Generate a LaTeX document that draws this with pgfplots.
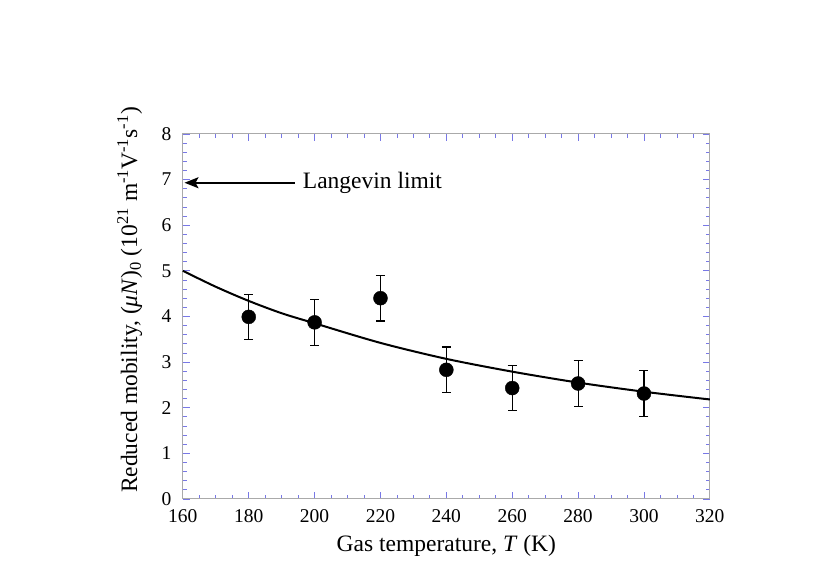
\documentclass[border=0pt]{standalone}
\usepackage{fontspec}
\setmainfont{Liberation Serif}
\usepackage{pgfplots}
\pgfplotsset{compat=1.18}
\usetikzlibrary{arrows.meta}
\definecolor{tickblue}{RGB}{120,120,230}
\definecolor{framegray}{RGB}{170,170,170}
\begin{document}
\begin{tikzpicture}
\begin{axis}[
  scale only axis,
  width=527pt, height=365pt,
  xmin=160, xmax=320, ymin=0, ymax=8,
  xtick={160,180,...,320}, ytick={0,1,...,8},
  minor x tick num=3, minor y tick num=4,
  axis line style={framegray, line width=1pt},
  every tick/.style={tickblue, line width=0.8pt},
  major tick length=7pt, minor tick length=4pt,
  tick align=inside,
  /pgf/number format/assume math mode=true,
  tick label style={font=\fontsize{19.5}{22}\selectfont},
  xticklabel style={yshift=-7pt},
  yticklabel style={xshift=-8pt},
  label style={font=\fontsize{23.5}{26}\selectfont},
  xlabel={Gas temperature, \textit{T} (K)},
  ylabel={Reduced mobility, (\textit{μN})\textsubscript{0} (10\textsuperscript{21} m\textsuperscript{-1}V\textsuperscript{-1}s\textsuperscript{-1})},
  xlabel style={at={(axis description cs:0.5,-0.129)}, anchor=center},
  ylabel style={at={(axis description cs:-0.101,0.545)}, anchor=center},
  clip=false,
]
\path (rel axis cs:-0.347,-0.241) rectangle (rel axis cs:1.228,1.367);
\addplot[black, line width=2pt, smooth] coordinates {
 (160,5.00) (170,4.65) (180,4.34) (190,4.07) (200,3.85) (220,3.42) (240,3.07)
 (260,2.79) (280,2.55) (300,2.35) (320,2.18)};
\addplot[black, only marks, mark=*, mark size=7pt,
  error bars/.cd, y dir=both, y explicit,
  error bar style={line width=1.1pt},
  error mark options={rotate=90, mark size=4.5pt, line width=1.1pt}]
  coordinates {
 (180,3.99) +- (0,0.5)
 (200,3.87) +- (0,0.5)
 (220,4.40) +- (0,0.5)
 (240,2.83) +- (0,0.5)
 (260,2.43) +- (0,0.5)
 (280,2.53) +- (0,0.5)
 (300,2.31) +- (0,0.5)};
\draw[-{Stealth[length=14pt,width=11pt,inset=3pt]}, line width=2pt] (axis cs:194,6.93) -- (axis cs:160.5,6.93);
\node[anchor=west, inner sep=0pt, font=\fontsize{23.5}{26}\selectfont] at (axis cs:196.4,6.93) {Langevin limit};
\end{axis}
\end{tikzpicture}
\end{document}
